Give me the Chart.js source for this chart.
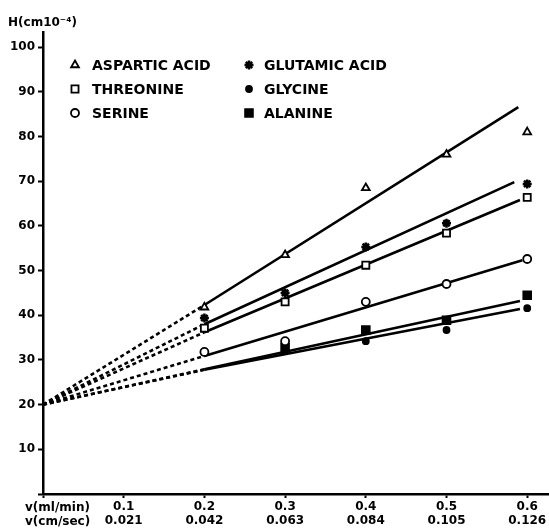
<!DOCTYPE html>
<html><head><meta charset="utf-8">
<script src="https://cdn.jsdelivr.net/npm/chart.js@4.4.1/dist/chart.umd.min.js"></script>
<style>html,body{margin:0;padding:0;background:#fff}</style>
</head><body>
<canvas id="c" width="549" height="528"></canvas>
<script>
// ---- data ----
const seriesNames = ['ASPARTIC ACID', 'THREONINE', 'SERINE', 'GLUTAMIC ACID', 'GLYCINE', 'ALANINE'];
const flowMlMin = [0.2, 0.3, 0.4, 0.5, 0.6];
const asparticH = [41.8, 53.5, 68.5, 76.0, 81.0];
const threonineH = [37.1, 43.0, 51.2, 58.4, 66.4];
const serineH = [31.8, 34.2, 43.0, 47.0, 52.6];
const glutamicH = [39.4, 45.0, 55.3, 60.6, 69.4];
const glycineH = [null, 32.0, 34.2, 36.7, 41.6];
const alanineH = [null, 32.7, 36.7, 38.9, 44.5];
// fitted lines: extrapolated (dashed) from origin value to v=0.2, solid to end
const originH = 20;
const fitStartV = 0.2;
const fitStartH = [42.3, 36.2, 30.9, 38.0, 27.8, 27.9];
const fitEndV = [0.589, 0.591, 0.594, 0.584, 0.591, 0.591];
const fitEndH = [86.6, 65.8, 52.3, 69.8, 41.4, 43.2];
// axis tick labels
const xTickMl = ['0.1', '0.2', '0.3', '0.4', '0.5', '0.6'];
const xTickCm = ['0.021', '0.042', '0.063', '0.084', '0.105', '0.126'];
const xUnitLabels = ['v(ml/min)', 'v(cm/sec)'];
const yTitle = 'H(cm10\u207B\u2074)';

const allSeries = [asparticH, threonineH, serineH, glutamicH, glycineH, alanineH];
const styles = [
  {ps: 'triangle', r: 4.5, fill: '#fff'},
  {ps: 'rect', r: 5, fill: '#fff'},
  {ps: 'circle', r: 4, fill: '#fff'},
  {ps: 'star', r: 4.5, fill: '#000'},
  {ps: 'circle', r: 3, fill: '#000'},
  {ps: 'rect', r: 5.5, fill: '#000'}
];

const FONT = 'DejaVu Sans';
const datasets = [];
allSeries.forEach((s, i) => {
  datasets.push({
    label: seriesNames[i] + ' extrapolation',
    data: [{x: 0, y: originH}, {x: fitStartV, y: fitStartH[i]}],
    showLine: true, borderColor: '#000', borderWidth: 2.6, borderDash: [4, 3],
    pointRadius: 0, order: 5
  });
  datasets.push({
    label: seriesNames[i] + ' fit',
    data: [{x: fitStartV, y: fitStartH[i]}, {x: fitEndV[i], y: fitEndH[i]}],
    showLine: true, borderColor: '#000', borderWidth: 2.6,
    pointRadius: 0, order: 4
  });
});
allSeries.forEach((s, i) => {
  datasets.push({
    label: seriesNames[i],
    data: flowMlMin.map((v, k) => ({x: v, y: s[k]})).filter(p => p.y !== null),
    showLine: false, pointStyle: styles[i].ps, pointRadius: styles[i].r,
    pointBackgroundColor: styles[i].fill, pointBorderColor: '#000',
    pointBorderWidth: styles[i].ps === 'star' ? 2.5 : 1.8, order: 1, clip: false
  });
});

const deco = {
  id: 'deco',
  afterDraw(chart) {
    const ctx = chart.ctx;
    ctx.save();
    ctx.fillStyle = '#000';
    ctx.textBaseline = 'middle';
    ctx.textAlign = 'left';
    ctx.font = 'bold 12px ' + FONT;
    ctx.fillText(yTitle, 8, 23);
    ctx.fillText(xUnitLabels[0], 25, 508);
    ctx.fillText(xUnitLabels[1], 25, 522);
    // legend
    ctx.font = 'bold 14px ' + FONT;
    const cols = [[75, 92], [249, 264]];
    const rows = [65, 89, 113];
    seriesNames.forEach((n, i) => {
      const c = cols[Math.floor(i / 3)], y = rows[i % 3];
      ctx.fillStyle = styles[i].fill;
      ctx.strokeStyle = '#000';
      ctx.lineWidth = styles[i].ps === 'star' ? 2.5 : 1.8;
      Chart.helpers.drawPoint(ctx, {pointStyle: styles[i].ps, radius: styles[i].r, rotation: 0, borderWidth: ctx.lineWidth}, c[0], y);
      ctx.fillStyle = '#000';
      ctx.fillText(n, c[1], y + 1);
    });
    ctx.restore();
  }
};

new Chart(document.getElementById('c'), {
  type: 'scatter',
  data: {datasets},
  plugins: [deco],
  options: {
    responsive: false, animation: false,
    layout: {autoPadding: false, padding: {top: 32, right: 0, bottom: 0, left: 0}},
    plugins: {legend: {display: false}, tooltip: {enabled: false}, title: {display: false}},
    scales: {
      x: {
        type: 'linear', min: 0, max: 0.627,
        afterFit: s => { s.height = 34; s.paddingRight = 0; s.paddingLeft = 0; },
        border: {color: '#000', width: 2.5},
        grid: {display: true, drawOnChartArea: false, drawTicks: true, tickLength: 4, tickColor: '#000', tickWidth: 2},
        ticks: {
          stepSize: 0.1, includeBounds: false, autoSkip: false, maxRotation: 0, padding: 2,
          color: '#000', font: {family: FONT, weight: 'bold', size: 12, lineHeight: 1.15},
          callback: v => {
            const k = Math.round(v * 10);
            if (k < 1 || k > 6) return ['', ''];
            return [xTickMl[k - 1], xTickCm[k - 1]];
          }
        }
      },
      y: {
        min: 0, max: 103.4,
        afterFit: s => { s.width = 43; s.paddingTop = 0; s.paddingBottom = 0; },
        border: {color: '#000', width: 2.5},
        grid: {display: true, drawOnChartArea: false, drawTicks: true, tickLength: 5, tickColor: '#000', tickWidth: 2},
        ticks: {
          stepSize: 10, includeBounds: false, padding: 3, color: '#000',
          font: {family: FONT, weight: 'bold', size: 12},
          callback: v => v === 0 ? '' : String(v)
        }
      }
    }
  }
});
</script>
</body></html>
